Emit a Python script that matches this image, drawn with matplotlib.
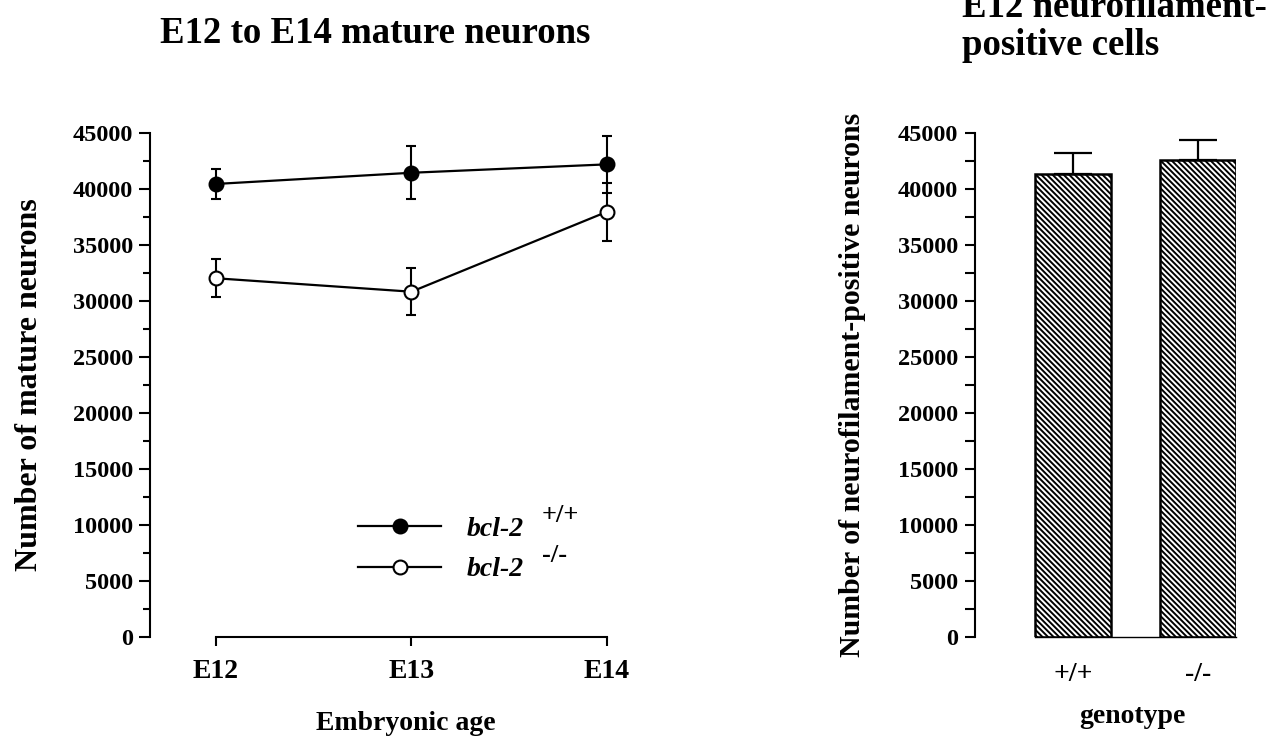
import numpy as np
import matplotlib
matplotlib.use("Agg")
import matplotlib.pyplot as plt
from matplotlib.lines import Line2D
from matplotlib.ticker import MultipleLocator

# =========================
# DATA
# =========================
ages = ["E12", "E13", "E14"]
wt_mean = [40450, 41450, 42200]
wt_err = [1340, 2350, 2550]
ko_mean = [32030, 30830, 37970]
ko_err = [1680, 2110, 2590]

genotypes = ["+/+", "-/-"]
nf_mean = [41300, 42600]
nf_err = [1900, 1740]

W, H = 1272, 747

plt.rcParams["font.family"] = ["Liberation Serif", "DejaVu Serif"]
plt.rcParams["font.weight"] = "bold"
plt.rcParams["hatch.linewidth"] = 1.4
plt.rcParams["axes.linewidth"] = 1.5

fig = plt.figure(figsize=(W / 100, H / 100), dpi=100)

# =========================================================
# LEFT: line plot
# =========================================================
ax1 = fig.add_axes([150 / W, 110 / H, 457 / W, 504 / H])
x = np.arange(len(ages))

ax1.errorbar(x, wt_mean, yerr=wt_err, color="black", lw=1.6, elinewidth=1.5,
             capsize=3.9, capthick=1.5, marker="o", ms=10, mfc="black",
             mec="black", mew=1.5, clip_on=False, zorder=3)
ax1.errorbar(x, ko_mean, yerr=ko_err, color="black", lw=1.6, elinewidth=1.5,
             capsize=3.9, capthick=1.5, marker="o", ms=10, mfc="white",
             mec="black", mew=1.5, clip_on=False, zorder=3)

ax1.set_xlim(-0.337, 2.0)
ax1.set_ylim(0, 45000)
ax1.set_xticks(x)
ax1.set_xticklabels(ages, fontsize=20)
ax1.yaxis.set_major_locator(MultipleLocator(5000))
ax1.yaxis.set_minor_locator(MultipleLocator(2500))
ax1.tick_params(axis="y", which="major", length=8, width=1.5, labelsize=17.5, pad=4)
ax1.tick_params(axis="y", which="minor", length=5, width=1.5)
ax1.tick_params(axis="x", length=6.5, width=1.5, pad=9)
for s in ["top", "right"]:
    ax1.spines[s].set_visible(False)
ax1.spines["bottom"].set_bounds(0, 2)

handles = [
    Line2D([], [], color="black", lw=1.6, marker="o", ms=10, mfc="black", mec="black", mew=1.5),
    Line2D([], [], color="black", lw=1.6, marker="o", ms=10, mfc="white", mec="black", mew=1.5),
]
leg = ax1.legend(handles, ["bcl-2", "bcl-2"], loc="center left",
                 bbox_to_anchor=(0.425, 0.174), frameon=False, borderpad=0,
                 handlelength=3.0, handletextpad=0.9, labelspacing=0.55,
                 prop={"size": 20, "style": "italic", "weight": "bold"})

fig.text(375 / W, 1 - 43 / H, "E12 to E14 mature neurons", fontsize=26.5,
         ha="center", va="baseline")
fig.text(406 / W, 1 - 730 / H, "Embryonic age", fontsize=20,
         ha="center", va="baseline")
fig.text(30 / W, 1 - 385 / H, "Number of mature neurons", fontsize=23,
         rotation=90, ha="center", va="center")

# =========================================================
# RIGHT: bar plot
# =========================================================
ax2 = fig.add_axes([975 / W, 110 / H, 261 / W, 504 / H])
xb = np.arange(len(genotypes))
ax2.bar(xb, nf_mean, width=0.61, color="white", edgecolor="black",
        linewidth=1.8, hatch="\\" * 6, zorder=2)
ax2.errorbar(xb, nf_mean, yerr=[[0, 0], nf_err], fmt="none", ecolor="black",
             elinewidth=1.6, capsize=13.7, capthick=1.6, zorder=3)

ax2.set_xlim(-0.787, 1.305)
ax2.set_ylim(0, 45000)
ax2.set_xticks(xb)
ax2.set_xticklabels(genotypes, fontsize=20)
ax2.yaxis.set_major_locator(MultipleLocator(5000))
ax2.yaxis.set_minor_locator(MultipleLocator(2500))
ax2.tick_params(axis="y", which="major", length=7, width=1.5, labelsize=17.5, pad=5)
ax2.tick_params(axis="y", which="minor", length=7, width=1.5)
ax2.tick_params(axis="x", length=0, pad=18)
for s in ["top", "right"]:
    ax2.spines[s].set_visible(False)
ax2.spines["bottom"].set_bounds(-0.305, 1.305)
ax2.spines["bottom"].set_linewidth(1.0)

fig.text(962 / W, 1 - 17 / H, "E12 neurofilament-", fontsize=26.5,
         ha="left", va="baseline")
fig.text(962 / W, 1 - 55 / H, "positive cells", fontsize=26.5,
         ha="left", va="baseline")
fig.text(1132 / W, 1 - 723 / H, "genotype", fontsize=20,
         ha="center", va="baseline")
fig.text(852 / W, 1 - 385 / H, "Number of neurofilament-positive neurons",
         fontsize=21.5, rotation=90, ha="center", va="center")

# superscripts next to the legend labels (placed after layout is known)
fig.canvas.draw()
for t, sup in zip(leg.get_texts(), ["+/+", "-/-"]):
    bb = t.get_window_extent()
    fig.text((bb.x1 + 18) / W, ((bb.y0 + bb.y1) / 2 + 14) / H, sup,
             fontsize=19, ha="left", va="center")

fig.savefig("out.png", dpi=100)
